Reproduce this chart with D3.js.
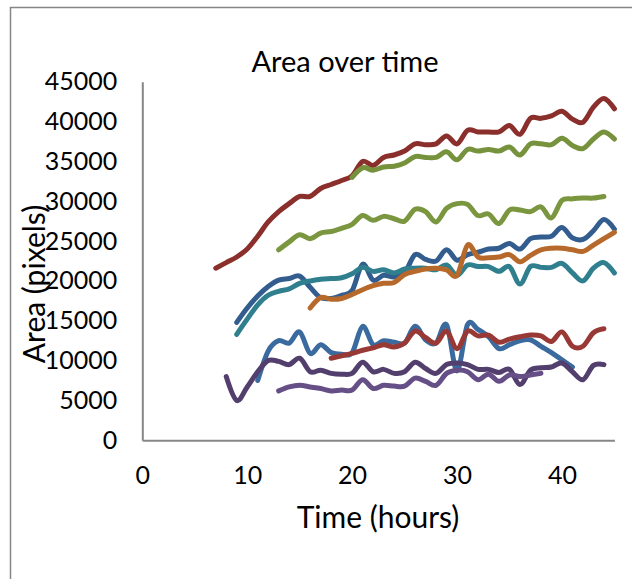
<!DOCTYPE html>
<html>
<head>
<meta charset="utf-8">
<script src="https://cdn.jsdelivr.net/npm/d3@7"></script>
<style>
  body { margin: 0; background: #fff; }
  text { font-family: Lato, "Open Sans", sans-serif; fill: #000; }
</style>
</head>
<body>
<div class="svg-container"></div>
<script>
var width = 632,
  height = 579;

// hourly readings, each series starts at its own hour
var redTopStart = 7;
var redTop = [21600, 22300, 23000, 24000, 25600, 27400, 28700, 29700, 30600, 30600, 31600, 32100, 32600, 33200,
  35000, 34500, 35500, 35800, 36300, 37200, 37100, 37200, 38200, 37200, 38900, 38700, 38700, 38700, 39500,
  38400, 40400, 40400, 40700, 41300, 40300, 39900, 41800, 42900, 41600];

var greenTopStart = 20;
var greenTop = [33000, 34200, 33900, 34300, 34400, 34800, 35600, 35500, 35500, 36200, 35200, 36500, 36300,
  36500, 36300, 36800, 35800, 37200, 37200, 37100, 37900, 37000, 36600, 37800, 38700, 37800];

var greenMidStart = 13;
var greenMid = [23900, 24900, 25800, 25300, 26000, 26200, 26600, 27100, 28200, 27600, 28100, 27800, 27500,
  29000, 28700, 27400, 29100, 29700, 29600, 28200, 28400, 27200, 28900, 28900, 28700, 29300, 27900, 30100,
  30300, 30400, 30400, 30600];

var blueTopStart = 9;
var blueTop = [14800, 16600, 18100, 19300, 20100, 20300, 20600, 19200, 17900, 17800, 18200, 18800, 22100,
  20100, 20700, 20500, 21000, 23300, 22700, 22500, 23900, 22600, 23300, 23600, 24000, 24100, 24700, 24000,
  25300, 25500, 25600, 26700, 25400, 25200, 26300, 27700, 26500];

var tealStart = 9;
var teal = [13300, 15200, 17000, 18200, 18700, 19000, 19700, 20000, 20200, 20300, 20400, 20900, 21700, 21200,
  21400, 21000, 21500, 21600, 21600, 21400, 22000, 20700, 22000, 21800, 21800, 21200, 21800, 19600, 21800,
  21700, 21700, 22200, 21000, 20000, 21600, 22300, 21000];

var orangeStart = 16;
var orange = [16600, 17900, 17700, 17800, 18300, 18900, 19400, 19700, 19800, 20800, 21200, 21500, 21600,
  21400, 20700, 24500, 23000, 22900, 23000, 23300, 22400, 23200, 23900, 24100, 24100, 23900, 23700, 24500,
  25300, 26100];

var blueLowStart = 11;
var blueLow = [7500, 11200, 12500, 12200, 13600, 10900, 12000, 11000, 10800, 11000, 14300, 12000, 12500,
  12300, 12200, 14300, 12600, 12200, 14500, 8700, 14500, 13900, 13000, 11500, 12000, 12500, 12600, 11800,
  11000, 10100, 9200];

var redLowStart = 18;
var redLow = [10300, 10600, 10900, 11300, 11600, 12000, 11700, 12200, 13700, 12900, 12200, 13700, 11500,
  13700, 13100, 13200, 12300, 12700, 13000, 13200, 13100, 12400, 13600, 11800, 11800, 13500, 14000];

var purpleDarkStart = 8;
var purpleDark = [8000, 5000, 6700, 8600, 10000, 9900, 9500, 10300, 8600, 8800, 8400, 8300, 8400, 9800, 8600,
  8900, 8400, 8600, 9800, 9000, 8400, 9500, 9700, 9500, 8900, 8900, 8500, 8900, 7000, 8800, 9100, 9200, 9700,
  8600, 7600, 9400, 9500];

var purpleLightStart = 13;
var purpleLight = [6200, 6700, 6900, 6700, 6500, 6200, 6300, 6300, 7600, 6500, 6900, 6800, 6800, 7800, 7400,
  6900, 8400, 8800, 8600, 7600, 8300, 7400, 8200, 8000, 8200, 8400];

var xTicks = [0, 10, 20, 30, 40];
var yTicks = [0, 5000, 10000, 15000, 20000, 25000, 30000, 35000, 40000, 45000];

var series = [
  { start: redTopStart, values: redTop, color: "#8a2f2b" },
  { start: greenTopStart, values: greenTop, color: "#76923c" },
  { start: greenMidStart, values: greenMid, color: "#7a963f" },
  { start: blueTopStart, values: blueTop, color: "#335d8e" },
  { start: tealStart, values: teal, color: "#2f7f8e" },
  { start: orangeStart, values: orange, color: "#b7692b" },
  { start: blueLowStart, values: blueLow, color: "#3b6a9e" },
  { start: redLowStart, values: redLow, color: "#983935" },
  { start: purpleDarkStart, values: purpleDark, color: "#523f6d" },
  { start: purpleLightStart, values: purpleLight, color: "#654f86" }
];

var svg = d3.select(".svg-container").append("svg")
  .attr("width", width)
  .attr("height", height);

// chart area border
svg.append("rect")
  .attr("x", 10.5)
  .attr("y", 7.5)
  .attr("width", 700)
  .attr("height", 700)
  .attr("fill", "none")
  .attr("stroke", "#868686")
  .attr("stroke-width", 1.5);

var x = d3.scaleLinear().domain([0, 45]).range([142.3, 614.4]);
var y = d3.scaleLinear().domain([0, 45000]).range([440.3, 81.7]);

// axes: no tick marks, just the line and labels
var xAxis = svg.append("g")
  .attr("transform", "translate(0," + y(0) + ")")
  .call(d3.axisBottom(x).tickValues(xTicks).tickFormat(d3.format("d")).tickSize(0).tickPadding(26));
xAxis.select(".domain").attr("stroke", "#868686").attr("stroke-width", 2);
xAxis.selectAll("text").attr("font-size", 25).attr("font-family", "Lato");

var yAxis = svg.append("g")
  .attr("transform", "translate(" + x(0) + ",0)")
  .call(d3.axisLeft(y).tickValues(yTicks).tickFormat(d3.format("d")).tickSize(0).tickPadding(25));
yAxis.select(".domain").attr("stroke", "#868686").attr("stroke-width", 2);
yAxis.selectAll("text").attr("font-size", 25).attr("font-family", "Lato");

var line = d3.line()
  .x(function(d) { return x(d.t); })
  .y(function(d) { return y(d.v); })
  .curve(d3.curveCatmullRom.alpha(0));

series.forEach(function(s) {
  var pts = s.values.map(function(v, i) { return { t: s.start + i, v: v }; });
  svg.append("path")
    .datum(pts)
    .attr("fill", "none")
    .attr("stroke", s.color)
    .attr("stroke-width", 5)
    .attr("stroke-linejoin", "round")
    .attr("stroke-linecap", "round")
    .attr("d", line);
});

svg.append("text")
  .attr("x", 345)
  .attr("y", 72)
  .attr("text-anchor", "middle")
  .attr("font-size", 29)
  .text("Area over time");

svg.append("text")
  .attr("x", 378)
  .attr("y", 528)
  .attr("text-anchor", "middle")
  .attr("font-size", 30)
  .text("Time (hours)");

svg.append("text")
  .attr("transform", "translate(45,284) rotate(-90)")
  .attr("text-anchor", "middle")
  .attr("font-size", 30)
  .text("Area (pixels)");
</script>
</body>
</html>
